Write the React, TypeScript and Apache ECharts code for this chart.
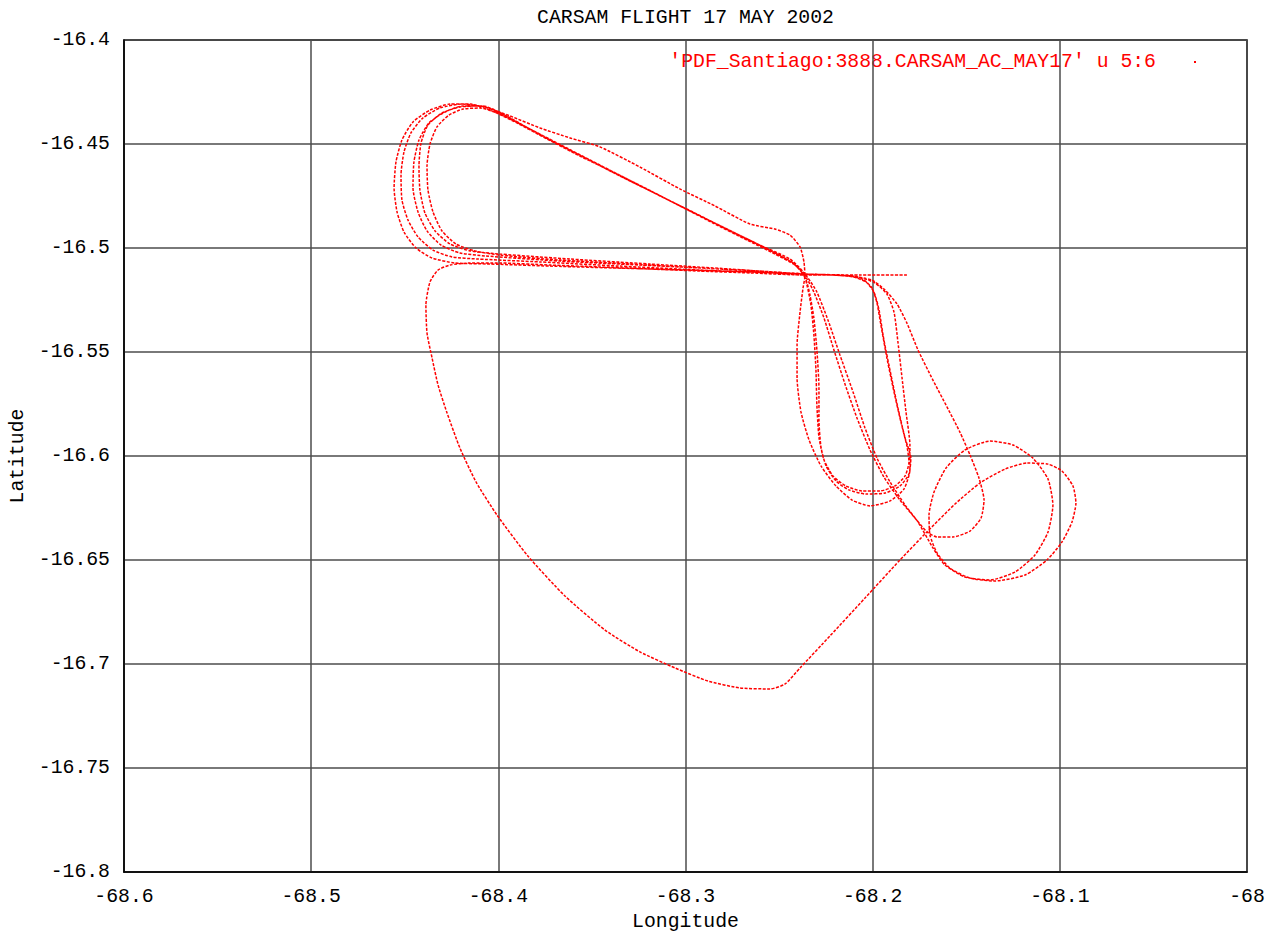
import { useEffect, useRef } from "react";
import * as echarts from "echarts";

// Axis ranges (degrees)
const LON_MIN = -68.6;
const LON_MAX = -68.0;
const LON_STEP = 0.1;
const LAT_MIN = -16.8;
const LAT_MAX = -16.4;
const LAT_STEP = 0.05;

const TITLE = "CARSAM FLIGHT 17 MAY 2002";
const SERIES_NAME = "'PDF_Santiago:3888.CARSAM_AC_MAY17' u 5:6";
const X_NAME = "Longitude";
const Y_NAME = "Latitude";

// Track segments, [longitude, latitude], in flight order
const takeoffLeg = [
  [-68.1817, -16.513], [-68.2068, -16.513], [-68.2362, -16.513], [-68.2655, -16.512],
  [-68.2923, -16.5111], [-68.319, -16.5101], [-68.3457, -16.5091], [-68.3724, -16.5082],
  [-68.3991, -16.5072], [-68.4151, -16.5072], [-68.4258, -16.5082],
];

const southLoop = [
  [-68.4322, -16.5106], [-68.4365, -16.5163], [-68.4387, -16.5274], [-68.4381, -16.5409],
  [-68.4354, -16.5529], [-68.4322, -16.5659], [-68.4274, -16.5793], [-68.4205, -16.5962],
  [-68.4119, -16.6125], [-68.4007, -16.6284], [-68.3842, -16.6481], [-68.3644, -16.6673],
  [-68.343, -16.6837], [-68.3243, -16.6942], [-68.3056, -16.7019], [-68.288, -16.7082],
  [-68.2709, -16.7115], [-68.2549, -16.712], [-68.2468, -16.7096], [-68.2388, -16.7019],
  [-68.2228, -16.6865], [-68.2041, -16.6683], [-68.1854, -16.65], [-68.171, -16.6365],
];

const eastCircles = [
  [-68.156, -16.6231], [-68.1427, -16.613], [-68.1293, -16.6063], [-68.1175, -16.6034],
  [-68.1063, -16.6039], [-68.0989, -16.6072], [-68.093, -16.6144], [-68.0914, -16.6226],
  [-68.0935, -16.6317], [-68.0989, -16.6414], [-68.1069, -16.65], [-68.1186, -16.6572],
  [-68.1347, -16.6601], [-68.148, -16.6587], [-68.1587, -16.6539], [-68.1656, -16.6466],
  [-68.1694, -16.638], [-68.1699, -16.6284], [-68.1672, -16.6173], [-68.1608, -16.6058],
  [-68.1507, -16.5971], [-68.1373, -16.5928], [-68.125, -16.5947], [-68.1144, -16.601],
  [-68.1063, -16.6111], [-68.1037, -16.6236], [-68.1063, -16.6365], [-68.1133, -16.6476],
  [-68.124, -16.6558], [-68.1373, -16.6596], [-68.1507, -16.6582], [-68.1614, -16.6524],
  [-68.1678, -16.6442],
];

const returnLegA = [
  [-68.1758, -16.6317], [-68.1827, -16.6236], [-68.1907, -16.6125], [-68.1977, -16.601],
  [-68.2041, -16.5865], [-68.2105, -16.5692], [-68.2175, -16.5514], [-68.2239, -16.5346],
  [-68.2298, -16.5212], [-68.2346, -16.5144],
];

const westLoop1 = [
  [-68.2415, -16.5082], [-68.2522, -16.5029], [-68.2671, -16.4962], [-68.2853, -16.488],
  [-68.303, -16.4798], [-68.3206, -16.4716], [-68.3387, -16.4635], [-68.3564, -16.4558],
  [-68.374, -16.4476], [-68.3911, -16.4394], [-68.4045, -16.4337], [-68.4151, -16.4308],
  [-68.4258, -16.4308], [-68.4365, -16.4337], [-68.4456, -16.4394], [-68.4515, -16.4481],
  [-68.4547, -16.4587], [-68.4557, -16.4712], [-68.4541, -16.4827], [-68.4504, -16.4923],
  [-68.444, -16.5], [-68.4354, -16.5048], [-68.4232, -16.5072], [-68.4045, -16.5077],
  [-68.3724, -16.5087], [-68.319, -16.5101], [-68.2655, -16.5115], [-68.2362, -16.5125],
];

const eastLoop1 = [
  [-68.2201, -16.513], [-68.211, -16.5135], [-68.2046, -16.5154], [-68.2004, -16.5192],
  [-68.1977, -16.5264], [-68.1956, -16.537], [-68.1924, -16.5529], [-68.1886, -16.5692],
  [-68.1849, -16.5837], [-68.1817, -16.5952], [-68.1806, -16.6029], [-68.1827, -16.6096],
  [-68.1881, -16.6144], [-68.1961, -16.6168], [-68.2057, -16.6168], [-68.2143, -16.6144],
  [-68.2212, -16.6096], [-68.226, -16.6019], [-68.2287, -16.5909], [-68.2298, -16.5755],
  [-68.2303, -16.5587], [-68.2314, -16.5418], [-68.233, -16.5274], [-68.2351, -16.5178],
  [-68.2372, -16.5115],
];

const westLoop2 = [
  [-68.2442, -16.5053], [-68.2602, -16.4986], [-68.2789, -16.4904], [-68.2976, -16.4822],
  [-68.3163, -16.4736], [-68.335, -16.4654], [-68.3537, -16.4567], [-68.3724, -16.4481],
  [-68.3884, -16.4404], [-68.4007, -16.4351], [-68.4098, -16.4327], [-68.4189, -16.4332],
  [-68.4264, -16.4361], [-68.4328, -16.4418], [-68.4365, -16.45], [-68.4381, -16.4606],
  [-68.4376, -16.4721], [-68.4349, -16.4827], [-68.4301, -16.4918], [-68.4226, -16.4981],
  [-68.4125, -16.5014], [-68.3991, -16.5034], [-68.3671, -16.5058], [-68.3297, -16.5077],
  [-68.2923, -16.5096], [-68.2602, -16.5111], [-68.2362, -16.5125],
];

const eastLoop2 = [
  [-68.2201, -16.513], [-68.2078, -16.5139], [-68.1988, -16.5168], [-68.1924, -16.5221],
  [-68.1886, -16.5308], [-68.1865, -16.5452], [-68.1843, -16.5625], [-68.1822, -16.5788],
  [-68.1801, -16.5947], [-68.1801, -16.6067], [-68.1833, -16.6159], [-68.1907, -16.6216],
  [-68.2014, -16.624], [-68.211, -16.6212], [-68.2196, -16.6144], [-68.2276, -16.6048],
  [-68.234, -16.5923], [-68.2383, -16.5788], [-68.2404, -16.5625], [-68.2404, -16.5466],
  [-68.2388, -16.5308], [-68.2372, -16.5192], [-68.2362, -16.5135],
];

const westLoop3 = [
  [-68.2367, -16.5067], [-68.2388, -16.4995], [-68.2442, -16.4938], [-68.2522, -16.4909],
  [-68.2655, -16.4885], [-68.2842, -16.4798], [-68.303, -16.4716], [-68.3243, -16.4611],
  [-68.3457, -16.4514], [-68.3617, -16.4471], [-68.3777, -16.4423], [-68.3938, -16.4365],
  [-68.4071, -16.4322], [-68.4194, -16.4308], [-68.4312, -16.4327], [-68.4403, -16.4375],
  [-68.4467, -16.4447], [-68.4504, -16.4538], [-68.452, -16.4649], [-68.4515, -16.4769],
  [-68.4483, -16.4865], [-68.4429, -16.4947], [-68.4349, -16.501], [-68.4248, -16.5043],
  [-68.4109, -16.5053], [-68.3778, -16.5067], [-68.335, -16.5087], [-68.2923, -16.5106],
  [-68.2549, -16.512], [-68.2362, -16.513],
];

const eastLoop3 = [
  [-68.2212, -16.513], [-68.2105, -16.5139], [-68.2036, -16.5163], [-68.1993, -16.5212],
  [-68.1966, -16.5298], [-68.194, -16.5442], [-68.1902, -16.5611], [-68.1865, -16.5769],
  [-68.1827, -16.5913], [-68.1796, -16.601], [-68.1806, -16.6087], [-68.1854, -16.6144],
  [-68.1934, -16.6178], [-68.2036, -16.6183], [-68.2127, -16.6163], [-68.2196, -16.612],
  [-68.2249, -16.6048], [-68.2276, -16.5957], [-68.2287, -16.5827], [-68.2287, -16.5673],
  [-68.2298, -16.549], [-68.2314, -16.5337], [-68.2335, -16.5226], [-68.2356, -16.5154],
];

const westLoop4 = [
  [-68.2404, -16.5087], [-68.2549, -16.501], [-68.2736, -16.4928], [-68.2923, -16.4846],
  [-68.311, -16.476], [-68.3297, -16.4678], [-68.3484, -16.4591], [-68.3671, -16.4505],
  [-68.3842, -16.4423], [-68.3975, -16.4356], [-68.4082, -16.4317], [-68.4189, -16.4317],
  [-68.4285, -16.4346], [-68.4371, -16.4399], [-68.4424, -16.4481], [-68.4451, -16.4587],
  [-68.4456, -16.4712], [-68.4429, -16.4827], [-68.4381, -16.4918], [-68.4306, -16.4986],
  [-68.4205, -16.5024], [-68.4071, -16.5038], [-68.3671, -16.5063], [-68.3243, -16.5082],
  [-68.2816, -16.5101], [-68.2362, -16.5125], [-68.2121, -16.5135], [-68.2004, -16.5154],
];

const smallLoop = [
  [-68.1934, -16.5202], [-68.187, -16.5269], [-68.1817, -16.5361], [-68.1758, -16.549],
  [-68.1678, -16.5635], [-68.1603, -16.5764], [-68.1534, -16.5885], [-68.148, -16.5995],
  [-68.1432, -16.6106], [-68.1405, -16.6212], [-68.1421, -16.6298], [-68.148, -16.6361],
  [-68.1571, -16.6389], [-68.1656, -16.6389], [-68.171, -16.6365],
];

const returnLegB = [
  [-68.1774, -16.6298], [-68.1854, -16.6212], [-68.194, -16.6101], [-68.2014, -16.5971],
  [-68.2084, -16.5817], [-68.2148, -16.5654], [-68.2207, -16.549], [-68.226, -16.5337],
  [-68.2314, -16.5212], [-68.2351, -16.5149],
];

const westLoop5 = [
  [-68.2426, -16.5072], [-68.2575, -16.5], [-68.2762, -16.4918], [-68.2949, -16.4832],
  [-68.3136, -16.475], [-68.3323, -16.4663], [-68.351, -16.4577], [-68.3697, -16.449],
  [-68.3863, -16.4413], [-68.3991, -16.4351], [-68.4098, -16.4317], [-68.4205, -16.4322],
  [-68.4301, -16.4351], [-68.4376, -16.4409], [-68.4413, -16.4495], [-68.4424, -16.4606],
  [-68.4419, -16.4721], [-68.4392, -16.4832], [-68.4338, -16.4918], [-68.4258, -16.4981],
  [-68.4151, -16.5014], [-68.3991, -16.5029],
];

const landingLeg = [
  [-68.3617, -16.5053], [-68.319, -16.5077], [-68.2762, -16.5101], [-68.2362, -16.5125],
  [-68.2068, -16.513], [-68.1817, -16.513],
];

const track = [
  ...takeoffLeg, ...southLoop, ...eastCircles, ...returnLegA,
  ...westLoop1, ...eastLoop1, ...westLoop2, ...eastLoop2,
  ...westLoop3, ...eastLoop3, ...westLoop4, ...smallLoop,
  ...returnLegB, ...westLoop5, ...landingLeg,
];

const FONT = "'Liberation Mono', 'DejaVu Sans Mono', monospace";
const FONT_SIZE = 19.8;
const W = 1269;
const H = 935;
const GRID = { left: 124, right: 22, top: 40, bottom: 63 };

const fmt = (v: number) => String(parseFloat(v.toFixed(2)));

export default function App() {
  const ref = useRef<HTMLDivElement>(null);

  useEffect(() => {
    document.body.style.margin = "0";
    const chart = echarts.init(ref.current!, null, { renderer: "svg" });
    const plotCenterX = GRID.left + (W - GRID.left - GRID.right) / 2;
    chart.setOption({
      animation: false,
      backgroundColor: "#ffffff",
      grid: {
        ...GRID,
        outerBoundsMode: "none",
        containLabel: false,
        show: true,
        borderColor: "#000",
        borderWidth: 1.5,
        backgroundColor: "transparent",
      },
      graphic: [
        {
          type: "text",
          x: plotCenterX,
          y: 18,
          style: {
            text: TITLE,
            fill: "#000",
            font: `${FONT_SIZE}px ${FONT}`,
            textAlign: "center",
            textVerticalAlign: "middle",
          },
        },
        {
          type: "text",
          x: 1156,
          y: 62,
          style: {
            text: SERIES_NAME,
            fill: "#ff0000",
            font: `${FONT_SIZE}px ${FONT}`,
            textAlign: "right",
            textVerticalAlign: "middle",
          },
        },
        {
          type: "rect",
          shape: { x: 1194, y: 61, width: 2, height: 2 },
          style: { fill: "#ff0000" },
        },
      ],
      xAxis: {
        type: "value",
        min: LON_MIN,
        max: LON_MAX,
        interval: LON_STEP,
        name: X_NAME,
        nameLocation: "middle",
        nameGap: 39,
        nameTextStyle: { fontFamily: FONT, fontSize: FONT_SIZE, color: "#000" },
        axisLine: { show: true, lineStyle: { color: "#000", width: 1.5 } },
        axisTick: { show: false },
        axisLabel: {
          fontFamily: FONT,
          fontSize: FONT_SIZE,
          color: "#000",
          margin: 15,
          formatter: fmt,
        },
        splitLine: { show: true, lineStyle: { color: "#4d4d4d", width: 1.5 } },
      },
      yAxis: {
        type: "value",
        min: LAT_MIN,
        max: LAT_MAX,
        interval: LAT_STEP,
        name: Y_NAME,
        nameLocation: "middle",
        nameGap: 91,
        nameRotate: 90,
        nameTextStyle: { fontFamily: FONT, fontSize: FONT_SIZE, color: "#000" },
        axisLine: { show: true, lineStyle: { color: "#000", width: 1.5 } },
        axisTick: { show: false },
        axisLabel: {
          fontFamily: FONT,
          fontSize: FONT_SIZE,
          color: "#000",
          margin: 14,
          formatter: fmt,
        },
        splitLine: { show: true, lineStyle: { color: "#4d4d4d", width: 1.5 } },
      },
      series: [
        {
          name: SERIES_NAME,
          type: "line",
          data: track,
          showSymbol: false,
          symbol: "none",
          smooth: 0.2,
          lineStyle: { color: "#ff0000", width: 1.5, type: [3, 1.5] },
        },
      ],
    });
    return () => chart.dispose();
  }, []);

  return <div ref={ref} style={{ width: W, height: H }} />;
}
